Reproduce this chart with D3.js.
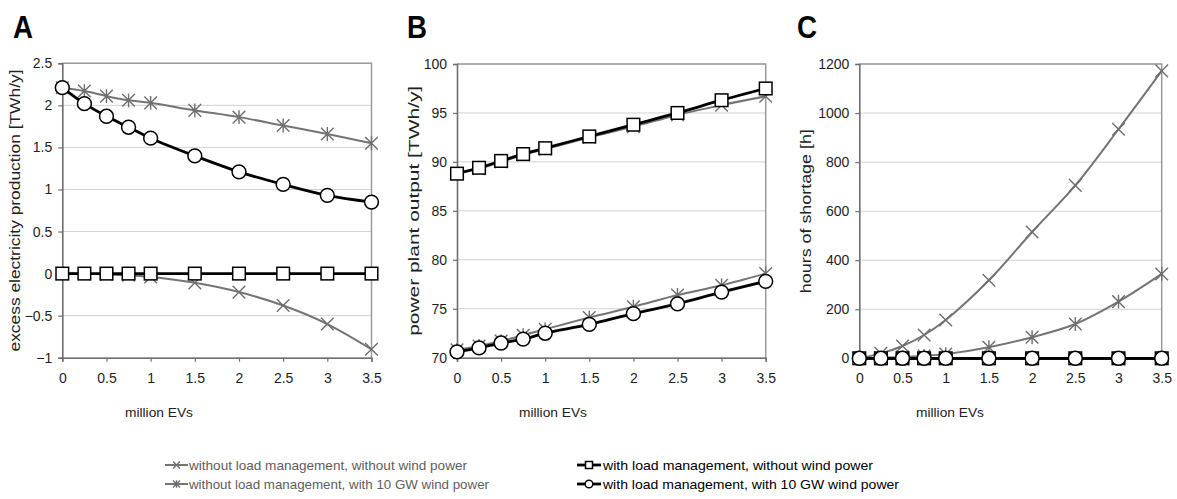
<!DOCTYPE html>
<html>
<head>
<meta charset="utf-8">
<script src="https://cdn.jsdelivr.net/npm/d3@7"></script>
<style>
  html, body { margin: 0; padding: 0; background: #fff; }
  svg { display: block; }
  text { font-family: "Liberation Sans", Arial, sans-serif; }
</style>
</head>
<body>
<svg id="chart" width="1177" height="499"></svg>
<script>
// ---------------- DATA ----------------
const millionEVs = [0, 0.25, 0.5, 0.75, 1, 1.5, 2, 2.5, 3, 3.5];
const xTickValues = [0, 0.5, 1, 1.5, 2, 2.5, 3, 3.5];

const seriesNames = [
  "without load management, without wind power",
  "without load management, with 10 GW wind power",
  "with load management, without wind power",
  "with load management, with 10 GW wind power"
];

// Panel A: excess electricity production [TWh/y]
const excessNoLmNoWind = [0, 0, -0.01, -0.02, -0.04, -0.11, -0.22, -0.38, -0.6, -0.9];
const excessNoLmWind   = [2.21, 2.17, 2.11, 2.06, 2.03, 1.94, 1.86, 1.76, 1.66, 1.55];
const excessLmNoWind   = [0, 0, 0, 0, 0, 0, 0, 0, 0, 0];
const excessLmWind     = [2.21, 2.02, 1.87, 1.74, 1.61, 1.40, 1.21, 1.06, 0.93, 0.85];
const excessTicks = [-1, -0.5, 0, 0.5, 1, 1.5, 2, 2.5];

// Panel B: power plant output [TWh/y]
const outputNoLmNoWind = [88.8, 89.3, 90.0, 90.7, 91.3, 92.5, 93.6, 94.8, 95.8, 96.7];
const outputNoLmWind   = [70.8, 71.2, 71.7, 72.3, 72.9, 74.1, 75.2, 76.4, 77.4, 78.6];
const outputLmNoWind   = [88.8, 89.4, 90.1, 90.8, 91.4, 92.6, 93.8, 95.0, 96.3, 97.5];
const outputLmWind     = [70.6, 71.0, 71.5, 71.9, 72.5, 73.4, 74.5, 75.5, 76.7, 77.8];
const outputTicks = [70, 75, 80, 85, 90, 95, 100];

// Panel C: hours of shortage [h]
const shortageNoLmNoWind = [0, 20, 50, 95, 156, 318, 515, 705, 934, 1172];
const shortageNoLmWind   = [0, 2, 5, 10, 17, 45, 86, 140, 231, 344];
const shortageLmNoWind   = [0, 0, 0, 0, 0, 0, 0, 0, 0, 0];
const shortageLmWind     = [0, 0, 0, 0, 0, 0, 0, 0, 0, 0];
const shortageTicks = [0, 200, 400, 600, 800, 1000, 1200];

// ---------------- STYLE ----------------
const styles = [
  { line: "#747474", width: 2,   marker: "x",        mcolor: "#6e6e6e" },
  { line: "#747474", width: 2,   marker: "asterisk", mcolor: "#6e6e6e" },
  { line: "#000000", width: 2.8, marker: "square",   mcolor: "#000" },
  { line: "#000000", width: 2.8, marker: "circle",   mcolor: "#000" }
];

const svg = d3.select("#chart");

function drawMarker(g, type, x, y, s, color) {
  if (type === "x") {
    g.append("path")
      .attr("d", `M${x - s},${y - s}L${x + s},${y + s}M${x - s},${y + s}L${x + s},${y - s}`)
      .attr("stroke", color).attr("stroke-width", 1.4).attr("fill", "none");
  } else if (type === "asterisk") {
    g.append("path")
      .attr("d", `M${x - s},${y - s}L${x + s},${y + s}M${x - s},${y + s}L${x + s},${y - s}M${x},${y - s * 1.1}L${x},${y + s * 1.1}`)
      .attr("stroke", color).attr("stroke-width", 1.4).attr("fill", "none");
  } else if (type === "square") {
    g.append("rect")
      .attr("x", x - s).attr("y", y - s).attr("width", 2 * s).attr("height", 2 * s)
      .attr("fill", "#fff").attr("stroke", color).attr("stroke-width", 1.5);
  } else if (type === "circle") {
    g.append("circle")
      .attr("cx", x).attr("cy", y).attr("r", s * 1.1)
      .attr("fill", "#fff").attr("stroke", color).attr("stroke-width", 1.5);
  }
}

function panel(cfg) {
  const x = d3.scaleLinear().domain([0, 3.5]).range(cfg.xRange);
  const y = d3.scaleLinear().domain(cfg.yDomain).range(cfg.yRange);
  const g = svg.append("g");

  // gridlines
  g.append("g").selectAll("line").data(cfg.yTicks).join("line")
    .attr("x1", cfg.xRange[0]).attr("x2", cfg.xRange[1])
    .attr("y1", d => y(d)).attr("y2", d => y(d))
    .attr("stroke", "#d2d2d2").attr("stroke-width", 1);

  // frame top/right
  g.append("path")
    .attr("d", `M${cfg.xRange[0]},${cfg.yRange[1]}H${cfg.xRange[1]}V${cfg.yRange[0]}`)
    .attr("fill", "none").attr("stroke", "#9a9a9a").attr("stroke-width", 1.5);

  // y axis
  const ya = g.append("g").attr("transform", `translate(${cfg.xRange[0]},0)`)
    .call(d3.axisLeft(y).tickValues(cfg.yTicks).tickSize(4).tickPadding(6).tickFormat(d3.format("~g")));
  // x axis
  const xa = g.append("g").attr("transform", `translate(0,${cfg.yRange[0]})`)
    .call(d3.axisBottom(x).tickValues(xTickValues).tickSize(4).tickPadding(11).tickFormat(d3.format("~g")));
  [ya, xa].forEach(a => {
    a.select(".domain").attr("stroke", "#6f6f6f").attr("stroke-width", 1.6);
    a.selectAll(".tick line").attr("stroke", "#6f6f6f").attr("stroke-width", 1.2);
    a.selectAll(".tick text").attr("fill", "#1e1e1e").style("font-size", "14px")
      .style("font-family", "'Liberation Sans', Arial, sans-serif");
  });

  // series
  const line = d3.line().x((d, i) => x(millionEVs[i])).y(d => y(d)).curve(d3.curveCatmullRom.alpha(0.5));
  cfg.series.forEach((vals, si) => {
    const st = styles[si];
    g.append("path").datum(vals).attr("d", line)
      .attr("fill", "none").attr("stroke", st.line).attr("stroke-width", st.width)
      .attr("stroke-linejoin", "round");
    const mg = g.append("g");
    vals.forEach((v, i) => drawMarker(mg, st.marker, x(millionEVs[i]), y(v), 6.3, st.mcolor));
  });

  // panel letter
  svg.append("text").attr("x", cfg.letterX).attr("y", 38)
    .attr("font-size", 31).attr("font-weight", "bold").attr("fill", "#000")
    .attr("textLength", 20).attr("lengthAdjust", "spacingAndGlyphs")
    .text(cfg.letter);

  // y title
  const yMid = (cfg.yRange[0] + cfg.yRange[1]) / 2;
  svg.append("text")
    .attr("transform", `translate(${cfg.yTitleX},${yMid}) rotate(-90)`)
    .attr("text-anchor", "middle").attr("font-size", 14).attr("fill", "#222")
    .attr("textLength", cfg.yTitleLen).attr("lengthAdjust", "spacingAndGlyphs")
    .text(cfg.yTitle);

  // x title
  svg.append("text").attr("x", cfg.xTitleX).attr("y", 417)
    .attr("text-anchor", "middle").attr("font-size", 13.5).attr("fill", "#222")
    .attr("textLength", 68).attr("lengthAdjust", "spacingAndGlyphs")
    .text("million EVs");
}

panel({
  letter: "A", letterX: 13,
  xRange: [62.3, 371.5], yRange: [357.7, 63.3], yDomain: [-1, 2.5], yTicks: excessTicks,
  series: [excessNoLmNoWind, excessNoLmWind, excessLmNoWind, excessLmWind],
  yTitle: "excess electricity production [TWh/y]", yTitleX: 20, yTitleLen: 282,
  xTitleX: 159
});
panel({
  letter: "B", letterX: 407,
  xRange: [457.0, 765.7], yRange: [357.7, 64], yDomain: [70, 100], yTicks: outputTicks,
  series: [outputNoLmNoWind, outputNoLmWind, outputLmNoWind, outputLmWind],
  yTitle: "power plant output [TWh/y]", yTitleX: 419, yTitleLen: 250,
  xTitleX: 553
});
panel({
  letter: "C", letterX: 797,
  xRange: [859.3, 1161.7], yRange: [358.3, 64], yDomain: [0, 1200], yTicks: shortageTicks,
  series: [shortageNoLmNoWind, shortageNoLmWind, shortageLmNoWind, shortageLmWind],
  yTitle: "hours of shortage [h]", yTitleX: 811, yTitleLen: 164,
  xTitleX: 950
});

// ---------------- LEGEND ----------------
const legendItems = [
  { si: 0, x0: 165, x1: 188, tx: 189, y: 465, len: 278, color: "#5e5e5e" },
  { si: 1, x0: 165, x1: 188, tx: 189, y: 484, len: 300, color: "#5e5e5e" },
  { si: 2, x0: 577, x1: 601, tx: 603, y: 465, len: 270, color: "#000" },
  { si: 3, x0: 577, x1: 601, tx: 603, y: 484, len: 296, color: "#000" }
];
const lg = svg.append("g");
legendItems.forEach(it => {
  const st = styles[it.si];
  lg.append("line").attr("x1", it.x0).attr("x2", it.x1).attr("y1", it.y).attr("y2", it.y)
    .attr("stroke", st.line).attr("stroke-width", st.width);
  drawMarker(lg, st.marker, (it.x0 + it.x1) / 2, it.y, 3.5, st.mcolor);
  lg.append("text").attr("x", it.tx).attr("y", it.y + 4.5)
    .attr("font-size", 13).attr("fill", it.color)
    .attr("textLength", it.len).attr("lengthAdjust", "spacingAndGlyphs")
    .text(seriesNames[it.si]);
});
</script>
</body>
</html>
